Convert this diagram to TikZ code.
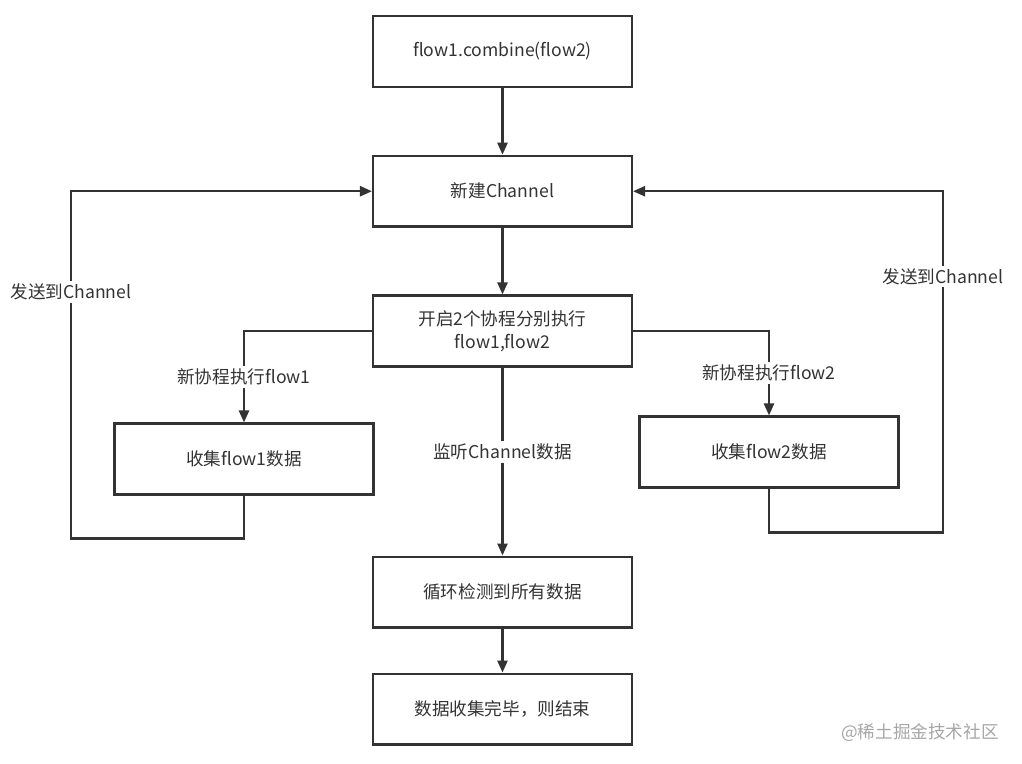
\documentclass[tikz,border=0pt]{standalone}
\usepackage{fontspec}
\newfontfamily\cjk{Noto Sans CJK SC}
\usepackage{tikz}
\usetikzlibrary{positioning, arrows.meta}
\usepackage{xcolor}
\definecolor{ink}{HTML}{333333}

\begin{document}
\begin{tikzpicture}[x=0.75pt, y=-0.75pt, >={Triangle[length=9pt, width=7.5pt]},
            line width=1.8pt, draw=ink,
            box/.style={draw=ink, line width=1.8pt, minimum width=194pt, minimum height=53pt,
                        align=center, text=ink, font=\cjk\fontsize{13.2}{17.5}\selectfont},
            lbl/.style={fill=white, inner sep=2pt, text=ink, font=\cjk\fontsize{13.2}{15}\selectfont},
            flow/.style={->, draw=ink, line width=1.8pt}]

        \useasboundingbox (0,0) rectangle (1022,764);

        % --- Boxes ---
        \node[box] (combine) at (502.5,51.5) {flow1.combine(flow2)};
        \node[box, below=50pt of combine] (chan) {新建Channel};
        \node[box, below=50pt of chan] (start) {开启2个协程分别执行\\flow1,flow2};
        \node[box] (col1) at (244,459) {收集flow1数据};
        \node[box] (col2) at (769,452) {收集flow2数据};
        \node[box, below=141pt of start] (check) {循环检测到所有数据};
        \node[box, below=33pt of check] (done) {数据收集完毕，则结束};

        % --- Main flow ---
        \draw[flow] (combine) -- (chan);
        \draw[flow] (chan) -- (start);
        \draw[flow] (start) -- node[lbl, pos=0.45] {监听Channel数据} (check);
        \draw[flow] (check) -- (done);

        % --- Coroutines ---
        \draw[flow] (start.west) -| node[lbl, pos=0.75] {新协程执行flow1} (col1.north);
        \draw[flow] (start.east) -| node[lbl, pos=0.75] {新协程执行flow2} (col2.north);

        % --- Send back to channel ---
        \draw[flow] (col1.south) -- ++(0,43) -- ++(-173,0)
            |- node[lbl, pos=0.355] {发送到Channel} (chan.west);
        \draw[flow] (col2.south) -- ++(0,44) -- ++(174,0)
            |- node[lbl, pos=0.375] {发送到Channel} (chan.east);

        % --- Watermark ---
        \node[text=black!35, font=\cjk\fontsize{13.2}{15}\selectfont] (mark) at (920,733) {@稀土掘金技术社区};

    \end{tikzpicture}
\end{document}
